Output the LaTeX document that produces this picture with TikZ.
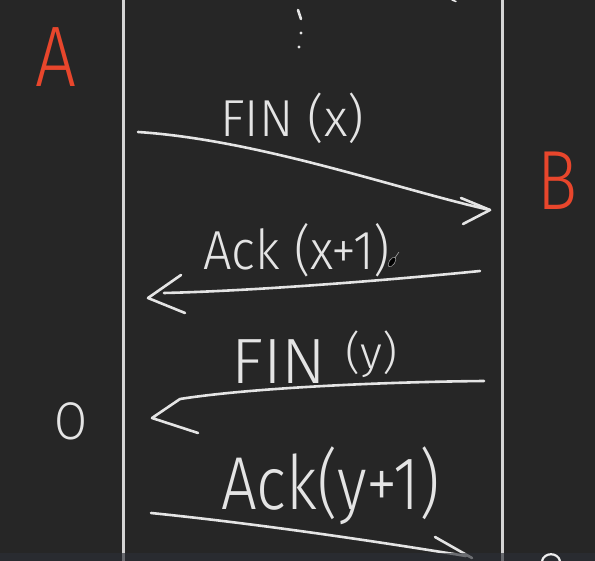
\documentclass[tikz,border=0pt]{standalone}
\usepackage{fontspec}
\usepackage{graphicx}
\IfFontExistsTF{Fira Sans Light}{\setmainfont{Fira Sans Light}}{\setmainfont{Fira Sans}}
\definecolor{bg}{HTML}{262626}
\definecolor{ink}{HTML}{E4E4E4}
\definecolor{redink}{HTML}{E8462C}
\definecolor{rulec}{HTML}{D4D4D4}
\definecolor{barc}{HTML}{2C2F36}
\newcommand\hw[3]{{\fontsize{#1}{#1}\selectfont\resizebox{#2}{\height}{#3}}}
\begin{document}
\begin{tikzpicture}[x=1pt,y=-1pt,
  hand/.style={text=ink, inner sep=0pt, anchor=base west},
  redhand/.style={text=redink, inner sep=0pt, anchor=base west},
  stroke/.style={draw=ink, line width=2.6pt, line cap=round, line join=round},
  rulestyle/.style={draw=rulec, line width=2.8pt}]
\useasboundingbox (0,0) rectangle (595,561);
\fill[bg] (0,0) rectangle (595,561);

% vertical lifelines
\draw[rulestyle] (123.5,0) -- (123.5,561);
\draw[rulestyle] (502.5,0) -- (502.5,561);

% tiny mark top right
\draw[draw=ink!70, line width=1.5pt, line cap=round] (452,0) -- (456,1.5);

% dots
\draw[stroke] (298,10) -- (301,19);
\fill[ink] (301,33) circle (1.7);
\fill[ink] (299,47) circle (1.7);

% labels A and B
\node[redhand] (A) at (35,87) {\hw{86pt}{41pt}{A}};
\node[redhand] (B) at (537,210) {\hw{84pt}{40pt}{B}};

% message labels
\node[hand] (fx) at (220,137) {\hw{52pt}{144pt}{FIN (x)}};
\node[hand] (ax) at (203,270) {\hw{55pt}{187pt}{Ack (x+1)}};
\node[hand] (fy) at (231,384) {\hw{64pt}{166pt}{FIN \raisebox{15pt}{\fontsize{45pt}{45pt}\selectfont(y)}}};
\node[hand] (ay) at (221,510) {\hw{75pt}{219pt}{Ack(y+1)}};

% state label near A
\node[hand] (o) at (54,440) {\hw{53pt}{33pt}{O}};

% arrow 1: FIN(x)  A -> B
\coordinate (s1) at (138,132);
\coordinate (t1) at (490,210);
\draw[stroke] (s1) .. controls (260,140) and (400,190) .. (t1);
\draw[stroke] (461,198) -- (t1) -- (463,224);

% arrow 2: Ack(x+1)  B -> A
\coordinate (s2) at (480,271);
\coordinate (m2) at (164,293);
\coordinate (t2) at (148,298);
\draw[stroke] (s2) .. controls (380,281) and (250,291) .. (m2);
\draw[stroke] (181,275) -- (t2) -- (185,313);

% arrow 3: FIN(y)  B -> A
\coordinate (s3) at (484,381);
\coordinate (m3) at (180,399);
\coordinate (t3) at (152,418);
\draw[stroke] (s3) .. controls (380,382) and (250,388) .. (m3);
\draw[stroke] (m3) -- (t3) -- (198,433);

% arrow 4: Ack(y+1)  A -> B
\coordinate (s4) at (151,513);
\coordinate (t4) at (472,558);
\draw[stroke] (s4) .. controls (260,524) and (380,542) .. (466,556);
\draw[stroke] (435,537) -- (t4);

% pen cursor
\begin{scope}[shift={(392,262)}, rotate=-35]
  \filldraw[fill=black, draw=gray!80, line width=0.6pt] (0,0) ellipse (2.8 and 5.5);
  \draw[gray!80, line width=0.7pt] (0,-5) -- (0,-12);
\end{scope}

% bottom bar
\fill[barc, opacity=0.65] (0,553) rectangle (595,561);
\draw[draw=ink!60, line width=2.2pt] (542,561) .. controls (544,552) and (558,552) .. (560,561);
\end{tikzpicture}
\end{document}
